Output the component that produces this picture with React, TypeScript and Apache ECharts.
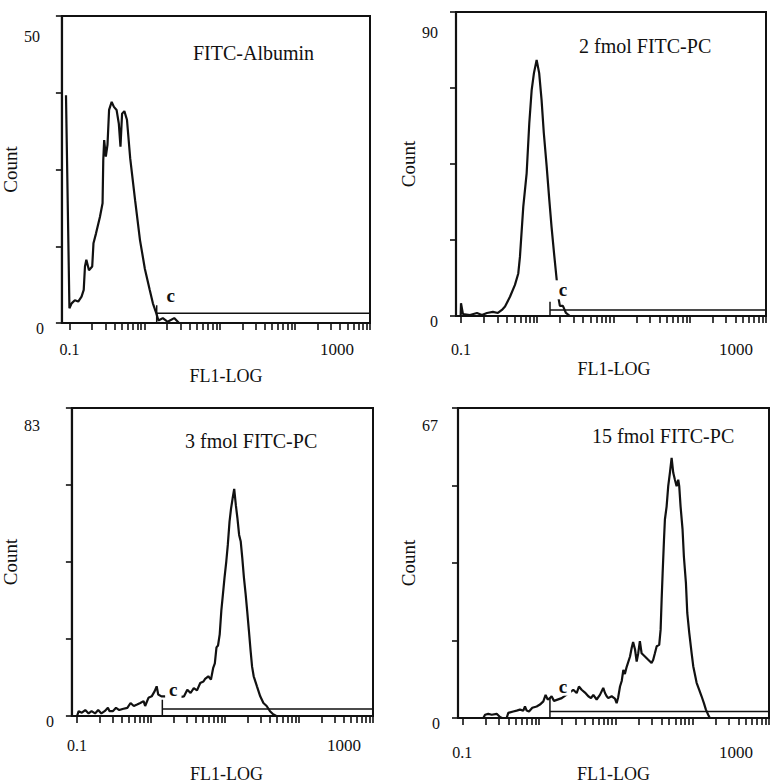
import React, { useEffect, useRef } from 'react';
import * as echarts from 'echarts';

// ---- texts ----
const panelTitles = ['FITC-Albumin', '2 fmol FITC-PC', '3 fmol FITC-PC', '15 fmol FITC-PC'];
const xAxisName = 'FL1-LOG';
const yAxisName = 'Count';
const xTickLabels = [0.1, 1000];
const gateLabel = 'c';

// ---- y-axis maxima (Count) ----
const yMaxValues = [50, 90, 83, 67];

// ---- histograms: [FL1 intensity, count] ----
const albuminHist: [number, number][] = [
  [0.09, 37.1], [0.1, 2.4], [0.107, 3.2], [0.118, 3.7], [0.131, 3.5], [0.145, 4.3], [0.155, 5.4],
  [0.161, 9.2], [0.168, 10.3], [0.182, 8.6], [0.201, 9.2], [0.209, 13.0], [0.226, 14.6],
  [0.255, 17.3], [0.276, 19.5], [0.282, 26.5], [0.29, 29.8], [0.305, 27.1], [0.321, 29.0],
  [0.337, 34.7], [0.365, 36.0], [0.391, 35.2], [0.424, 34.7], [0.454, 32.5], [0.478, 28.7],
  [0.502, 34.1], [0.538, 34.5], [0.583, 33.1], [0.644, 26.8], [0.748, 20.0], [0.869, 13.5],
  [1.01, 8.8], [1.17, 5.4], [1.29, 3.2], [1.43, 1.6], [1.53, 0.4], [1.75, 0.8], [2.03, 0.2],
  [2.48, 0.8], [2.87, 0], [1000, 0],
];

const fmol2Hist: [number, number][] = [
  [0.099, 0], [0.1, 3.8], [0.106, 0.6], [0.131, 0.3], [0.162, 0.9], [0.188, 0.3], [0.219, 0.9],
  [0.262, 1.2], [0.305, 0.9], [0.344, 1.8], [0.378, 2.8], [0.439, 5.7], [0.51, 9.2],
  [0.564, 12.6], [0.593, 17.5], [0.656, 32.4], [0.726, 42.2], [0.786, 57.0], [0.845, 66.9],
  [0.905, 71.9], [0.982, 75.8], [1.06, 71.9], [1.14, 63.9], [1.22, 54.1], [1.33, 44.2],
  [1.44, 34.3], [1.54, 26.4], [1.66, 18.6], [1.8, 10.7], [1.87, 6.2], [1.98, 3.0],
  [2.17, 3.0], [2.38, 0.9], [2.68, 0], [1000, 0],
];

const fmol3Hist: [number, number][] = [
  [0.1, 0], [0.105, 1.3], [0.116, 0.9], [0.129, 1.6], [0.143, 0.7], [0.157, 1.3], [0.175, 0.7],
  [0.193, 1.6], [0.213, 0.7], [0.236, 1.3], [0.261, 2.2], [0.275, 1.3], [0.304, 1.3],
  [0.336, 2.2], [0.372, 1.6], [0.411, 1.9], [0.478, 2.2], [0.528, 3.5], [0.585, 2.7],
  [0.647, 3.1], [0.715, 3.5], [0.792, 4.0], [0.832, 2.7], [0.922, 4.9], [1.02, 5.3],
  [1.12, 6.7], [1.19, 8.0], [1.25, 5.8], [1.38, 5.3], [1.52, 5.3], [1.9, 5.0], [2.4, 5.1],
  [2.79, 5.3], [3.09, 7.1], [3.42, 6.2], [3.78, 7.5], [4.18, 6.9], [4.62, 8.9], [5.11, 9.3],
  [5.38, 10.0], [5.94, 10.7], [6.45, 9.8], [6.92, 13.0], [7.28, 14.2], [7.66, 18.5],
  [8.04, 19.0], [8.47, 22.0], [8.91, 28.4], [9.36, 32.8], [9.84, 37.3], [10.4, 41.7],
  [10.9, 46.1], [11.5, 52.4], [12.05, 55.9], [12.65, 58.6], [13.3, 61.2], [14.0, 56.8],
  [14.7, 53.3], [15.5, 48.8], [16.3, 47.0], [17.1, 42.6], [18.0, 37.3], [19.0, 32.8],
  [19.9, 28.4], [21.0, 23.1], [22.1, 17.8], [23.2, 13.3], [24.4, 10.7], [27.0, 8.0],
  [29.9, 5.3], [33.0, 3.5], [36.5, 2.7], [40.5, 1.3], [44.7, 0.45], [49.4, 0], [1000, 0],
];

const fmol15Hist: [number, number][] = [
  [0.1, 0], [0.188, 0], [0.198, 0.7], [0.218, 0.9], [0.242, 0.7], [0.281, 0.9], [0.31, 0.2],
  [0.33, 0], [0.379, 0], [0.398, 1.1], [0.462, 1.4], [0.512, 1.6], [0.565, 1.8], [0.625, 1.6],
  [0.657, 2.5], [0.691, 1.6], [0.741, 1.4], [0.819, 2.2], [0.933, 2.5], [1.03, 2.9],
  [1.14, 3.6], [1.22, 5.0], [1.3, 4.0], [1.39, 4.3], [1.46, 4.7], [1.57, 3.7], [1.98, 4.3],
  [2.8, 6.1], [3.1, 5.4], [3.32, 6.8], [3.6, 6.1], [3.98, 5.5], [4.4, 4.7], [4.77, 4.3],
  [5.11, 5.0], [5.65, 4.0], [6.24, 5.0], [6.89, 6.5], [7.26, 5.4], [7.64, 4.7], [8.01, 4.3],
  [8.87, 4.7], [9.79, 4.2], [10.3, 3.2], [10.8, 4.5], [11.4, 6.8], [12.0, 8.0], [12.6, 10.4],
  [13.2, 9.5], [13.9, 11.0], [15.4, 13.3], [16.2, 15.2], [16.9, 16.4], [17.9, 14.8],
  [18.8, 12.2], [19.7, 14.0], [20.7, 16.6], [21.8, 14.0], [24.1, 13.3], [26.6, 12.6],
  [29.4, 11.9], [30.9, 12.6], [32.5, 14.0], [34.3, 15.5], [37.0, 15.8], [38.6, 19.1],
  [39.8, 25.6], [41.0, 31.3], [42.7, 38.5], [43.9, 42.9], [46.2, 45.7], [48.5, 50.1],
  [51.0, 53.0], [53.7, 56.2], [56.4, 53.0], [59.3, 51.5], [62.4, 50.1], [65.5, 51.5],
  [67.5, 50.1], [70.3, 45.7], [74.6, 40.7], [77.6, 34.9], [82.5, 29.2], [85.9, 22.7],
  [91.2, 18.4], [97.9, 14.0], [102.8, 11.2], [113.8, 7.6], [123, 6.1], [132, 4.7],
  [141.6, 3.2], [150.3, 1.8], [161, 0.7], [169, 0], [1000, 0],
];

const histograms = [albuminHist, fmol2Hist, fmol3Hist, fmol15Hist];

// ---- marker "c" gate: start (FL1), bar level and tick top (Count) ----
const gateStart = [1.45, 1.47, 1.42, 1.39];
const gateLevel = [1.6, 1.8, 1.9, 1.4];
const gateTop = [2.9, 4.2, 4.4, 4.5];

// ---- layout (pixels) ----
const layouts = [
  { left: 55, top: 16, width: 315, height: 307, xMin: 0.0794, xLabMargin: 18, maxLabShift: 33, yMaxTop: 40, yMaxRight: 4, yNameGap: 26, xNameGap: 44, xNameShift: 20 },
  { left: 456, top: 12, width: 310, height: 304, xMin: 0.086, xLabMargin: 25, maxLabShift: 30, yMaxTop: 40, yMaxRight: 0, yNameGap: 27, xNameGap: 44, xNameShift: 6 },
  { left: 63, top: 408, width: 310, height: 312, xMin: 0.0851, xLabMargin: 21, maxLabShift: 29, yMaxTop: 34, yMaxRight: 14, yNameGap: 29, xNameGap: 49, xNameShift: 8 },
  { left: 458, top: 408, width: 311, height: 310, xMin: 0.0879, xLabMargin: 26, maxLabShift: 33, yMaxTop: 34, yMaxRight: 2, yNameGap: 28, xNameGap: 47, xNameShift: 0 },
];
const titlePos = [
  { left: 193, top: 43 },
  { left: 579, top: 36 },
  { left: 185, top: 431 },
  { left: 592, top: 426 },
];
const gateLabelOffset = [[14, -10], [13, -12], [11, -10], [13, -11]];

const FONT = '"Liberation Serif", "Times New Roman", "DejaVu Serif", serif';
const INK = '#111';

function buildXTicks(): number[] {
  const out: number[] = [];
  for (let e = -1; e < 3; e++) {
    const base = Math.pow(10, e);
    for (let k = 1; k <= 9; k++) out.push(+(k * base).toPrecision(6));
  }
  out.push(1000);
  return out;
}

export default function App() {
  const ref = useRef<HTMLDivElement>(null);

  useEffect(() => {
    if (!ref.current) return;
    const chart = echarts.init(ref.current, undefined, { renderer: 'svg' });
    const xTicks = buildXTicks();

    const grid = layouts.map((L) => ({
      left: L.left,
      top: L.top,
      width: L.width,
      height: L.height,
      show: true,
      borderColor: INK,
      borderWidth: 2,
      backgroundColor: 'transparent',
      containLabel: false,
    }));

    const xAxis = layouts.map((L, i) => ({
      gridIndex: i,
      type: 'log',
      logBase: 10,
      min: L.xMin,
      max: 1000,
      axisLine: { show: true, lineStyle: { color: INK, width: 2.2 } },
      axisTick: { show: true, inside: false, length: 7, customValues: xTicks, lineStyle: { color: INK, width: 1.6 } },
      minorTick: { show: false },
      splitLine: { show: false },
      axisLabel: {
        show: true,
        customValues: xTickLabels,
        margin: L.xLabMargin,
        color: INK,
        fontFamily: FONT,
        fontSize: 16,
        formatter: (v: number) =>
          v > 1 ? `{r|${xTickLabels[1]}}` : `{l|${xTickLabels[0]}}`,
        rich: {
          r: { fontFamily: FONT, fontSize: 17, color: INK, padding: [0, L.maxLabShift * 2, 0, 0] },
          l: { fontFamily: FONT, fontSize: 16, color: INK },
        },
      },
      name: xAxisName,
      nameLocation: 'middle',
      nameGap: L.xNameGap,
      nameTextStyle: { fontFamily: FONT, fontSize: 18, color: INK, padding: [0, 0, 0, L.xNameShift] },
    }));

    const yAxis = layouts.map((L, i) => {
      const M = yMaxValues[i];
      return {
        gridIndex: i,
        type: 'value',
        min: 0,
        max: M,
        interval: M / 4,
        axisLine: { show: true, lineStyle: { color: INK, width: 2.2 } },
        axisTick: { show: true, inside: false, length: 6, lineStyle: { color: INK, width: 1.6 } },
        splitLine: { show: false },
        axisLabel: {
          show: true,
          margin: 18,
          color: INK,
          fontFamily: FONT,
          fontSize: 16,
          formatter: (v: number) =>
            v === 0 ? '{z|0}' : Math.abs(v - M) < 1e-6 ? `{m|${M}}` : '',
          rich: {
            z: { fontFamily: FONT, fontSize: 16, color: INK, padding: [10, 0, 0, 0] },
            m: { fontFamily: FONT, fontSize: 16, color: INK, padding: [L.yMaxTop, L.yMaxRight, 0, 0] },
          },
        },
        name: yAxisName,
        nameLocation: 'middle',
        nameRotate: 90,
        nameGap: L.yNameGap,
        nameTextStyle: { fontFamily: FONT, fontSize: 19, color: INK },
      };
    });

    const series: any[] = [];
    histograms.forEach((h, i) => {
      series.push({
        type: 'line',
        xAxisIndex: i,
        yAxisIndex: i,
        data: h,
        symbol: 'none',
        showSymbol: false,
        silent: true,
        lineStyle: { color: INK, width: 2.2 },
        z: 3,
      });
      series.push({
        type: 'line',
        xAxisIndex: i,
        yAxisIndex: i,
        data: [
          [gateStart[i], 0],
          [gateStart[i], gateTop[i]],
          [gateStart[i], gateLevel[i]],
          [1000, gateLevel[i]],
        ],
        symbol: 'none',
        showSymbol: false,
        silent: true,
        lineStyle: { color: INK, width: 1.5 },
        z: 2,
      });
    });

    const title = panelTitles.map((t, i) => ({
      text: t,
      left: titlePos[i].left,
      top: titlePos[i].top,
      padding: 0,
      textStyle: { fontFamily: FONT, fontSize: 20, fontWeight: 'normal', color: INK },
    }));

    chart.setOption({
      animation: false,
      backgroundColor: '#fff',
      title,
      grid,
      xAxis,
      yAxis,
      series,
    } as any);

    // gate "c" labels placed through the chart's own scales
    const graphic = gateStart.map((gs, i) => {
      const p = chart.convertToPixel({ gridIndex: i } as any, [gs, gateTop[i]]) as number[];
      return {
        type: 'text',
        x: p[0] + gateLabelOffset[i][0],
        y: p[1] + gateLabelOffset[i][1],
        z: 10,
        style: {
          text: gateLabel,
          fontFamily: FONT,
          fontSize: 19,
          fontWeight: 'bold',
          fill: INK,
          align: 'center',
          verticalAlign: 'middle',
          backgroundColor: '#fff',
          padding: [0, 4],
        },
      };
    });
    chart.setOption({ graphic } as any);

    return () => chart.dispose();
  }, []);

  return (
    <div
      ref={ref}
      style={{ position: 'absolute', left: 0, top: 0, width: 770, height: 784 }}
    />
  );
}
